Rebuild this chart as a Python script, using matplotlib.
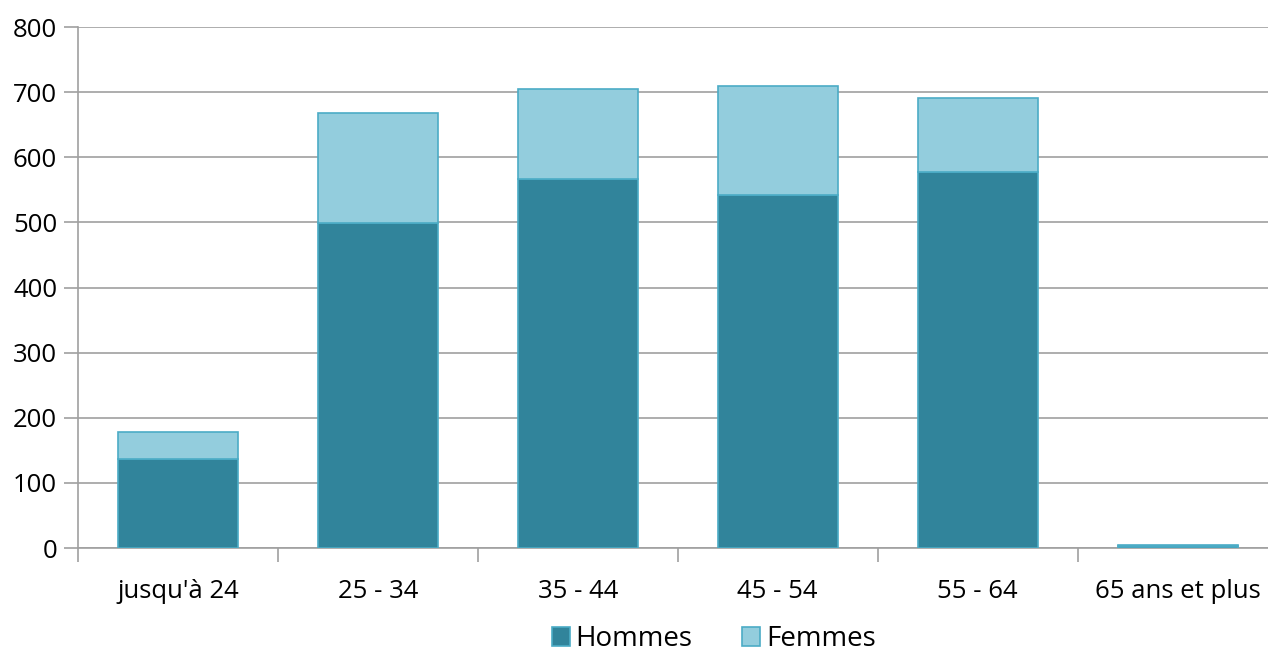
import numpy as np
import matplotlib
matplotlib.use("agg")
import matplotlib.pyplot as plt

categories = ["jusqu'à 24", "25 - 34", "35 - 44", "45 - 54", "55 - 64", "65 ans et plus"]
hommes = [137, 499, 567, 542, 578, 3]
femmes = [41, 169, 138, 168, 113, 1]

plt.rcParams['font.family'] = ['Open Sans', 'DejaVu Sans']

fig = plt.figure(figsize=(12.68, 6.52), dpi=100)
ax = fig.add_axes([0.0615, 0.1595, 0.946, 0.799])

x = np.arange(len(categories))
ax.bar(x, hommes, width=0.6, color='#31849B', edgecolor='#4BACC6', linewidth=1.2,
       label='Hommes', zorder=3)
ax.bar(x, femmes, width=0.6, bottom=hommes, color='#93CDDD', edgecolor='#4BACC6',
       linewidth=1.2, label='Femmes', zorder=3)

ax.set_xlim(-0.5, len(categories) - 0.5)
ax.set_ylim(0, 800)
ax.set_yticks(range(0, 801, 100))
ax.yaxis.grid(True, color='#A0A0A0', linewidth=1.2, zorder=0)

# category boundaries get the tick marks, labels sit on minor ticks
ax.set_xticks(np.arange(-0.5, len(categories), 1))
ax.set_xticklabels([])
ax.set_xticks(x, minor=True)
ax.set_xticklabels(categories, minor=True, fontsize=18.5)
ax.tick_params(axis='x', which='major', length=10, color='#A0A0A0', width=1.2)
ax.tick_params(axis='x', which='minor', length=0, pad=22)
ax.tick_params(axis='y', length=10, color='#A0A0A0', width=1.2, labelsize=18.5, pad=5)

for s in ['top', 'right']:
    ax.spines[s].set_visible(False)
for s in ['left', 'bottom']:
    ax.spines[s].set_color('#A0A0A0')
    ax.spines[s].set_linewidth(1.2)

ax.legend(loc='center', bbox_to_anchor=(0.53, -0.175), ncol=2, frameon=False,
          fontsize=20, handlelength=0.65, handleheight=0.65, handletextpad=0.2,
          columnspacing=1.8, borderpad=0)

fig.savefig('out.png', dpi=100)
